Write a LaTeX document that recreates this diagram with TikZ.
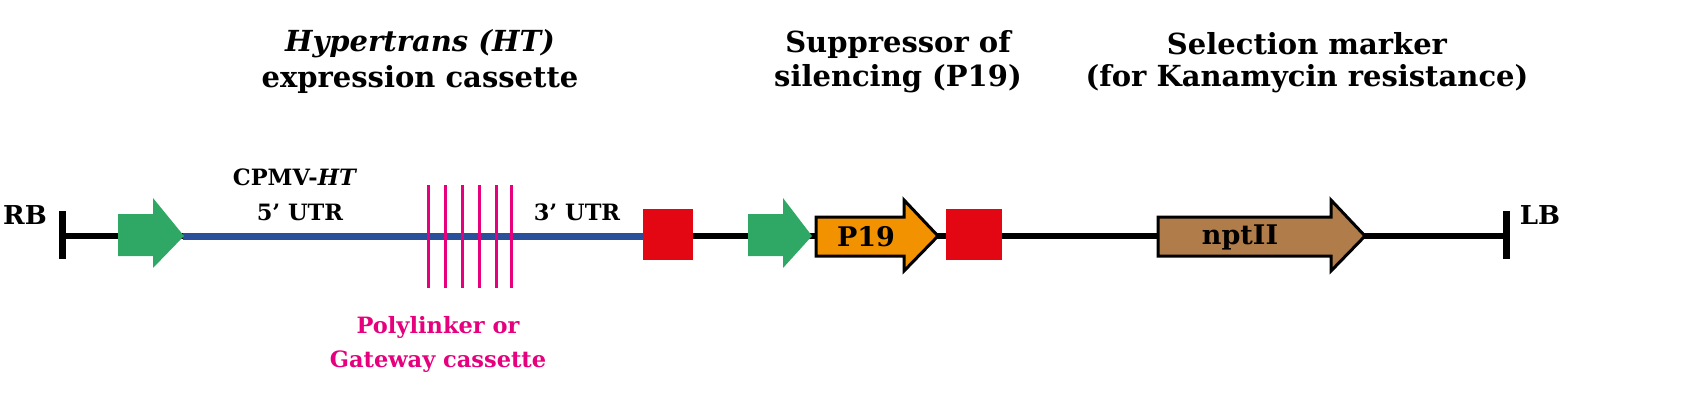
\documentclass[tikz,border=0pt]{standalone}
\usepackage{fontspec}
\setmainfont{DejaVu Serif}
\begin{document}
\begin{tikzpicture}[x=1pt,y=-1pt,
  lbl/.style={font=\fontsize{29}{33}\selectfont\bfseries,inner sep=0pt,align=center},
  sm/.style={font=\fontsize{22.5}{26}\selectfont\bfseries,inner sep=0pt,align=center},
  bar/.style={line width=7pt},
  ml/.style={line width=3pt,draw={rgb,255:red,230;green,0;blue,126}}]
\definecolor{grn}{RGB}{46,168,100}
\definecolor{blu}{RGB}{42,79,155}
\definecolor{rd}{RGB}{227,6,19}
\definecolor{org}{RGB}{243,146,0}
\definecolor{brn}{RGB}{176,124,74}
\definecolor{mag}{RGB}{230,0,126}
\useasboundingbox (0,0) rectangle (1695,407);
\coordinate (rb) at (62,236); \coordinate (lb) at (1506,236);
\draw[line width=6pt] (rb) -- (lb);
\draw[bar] (62,211) -- (62,259); \draw[bar] (1506,211) -- (1506,259);
\node[lbl,font=\fontsize{26}{30}\selectfont\bfseries] (RB) at (25,215) {RB};
\node[lbl,font=\fontsize{26}{30}\selectfont\bfseries] (LB) at (1540,215) {LB};
\coordinate (b1) at (183,236); \coordinate (b2) at (645,236);
\draw[line width=7pt,blu] (b1) -- (b2);
\foreach \x in {428,445,462,479,496,511} \draw[ml] (\x,185) -- (\x,288);
\fill[grn] (118,214) -- (153,214) -- (153,198) -- (184,236) -- (153,268) -- (153,256) -- (118,256) -- cycle;
\fill[grn] (748,214) -- (783,214) -- (783,198) -- (812,236) -- (783,268) -- (783,256) -- (748,256) -- cycle;
\fill[rd] (643,209) rectangle (693,260);
\fill[rd] (946,209) rectangle (1002,260);
\draw[line width=3pt,fill=org,line join=miter] (816,217) -- (904,217) -- (904,200) -- (938,236) -- (904,271) -- (904,256) -- (816,256) -- cycle;
\node[lbl,font=\fontsize{27}{30}\selectfont\bfseries] (p19) at (866,237) {P19};
\draw[line width=3pt,fill=brn,line join=miter] (1158,217) -- (1331,217) -- (1331,200) -- (1365,236) -- (1331,271) -- (1331,256) -- (1158,256) -- cycle;
\node[lbl,font=\fontsize{27}{30}\selectfont\bfseries] (npt) at (1240,237) {nptII};
\node[lbl] (t1) at (420,44) {\itshape Hypertrans (HT)};
\node[lbl] (t2) at (420,79) {expression cassette};
\node[lbl] (t3) at (898,44) {Suppressor of};
\node[lbl] (t4) at (898,79) {silencing (P19)};
\node[lbl] (t5) at (1307,44) {Selection marker};
\node[lbl] (t6) at (1307,79) {(for Kanamycin resistance)};
\node[sm] (c1) at (295,177) {CPMV-\textit{HT}};
\node[sm] (c2) at (300,212) {5’ UTR};
\node[sm] (c3) at (577,212) {3’ UTR};
\node[sm,text=mag] (m1) at (438,327) {Polylinker or};
\node[sm,text=mag] (m2) at (438,362) {Gateway cassette};
\end{tikzpicture}
\end{document}
